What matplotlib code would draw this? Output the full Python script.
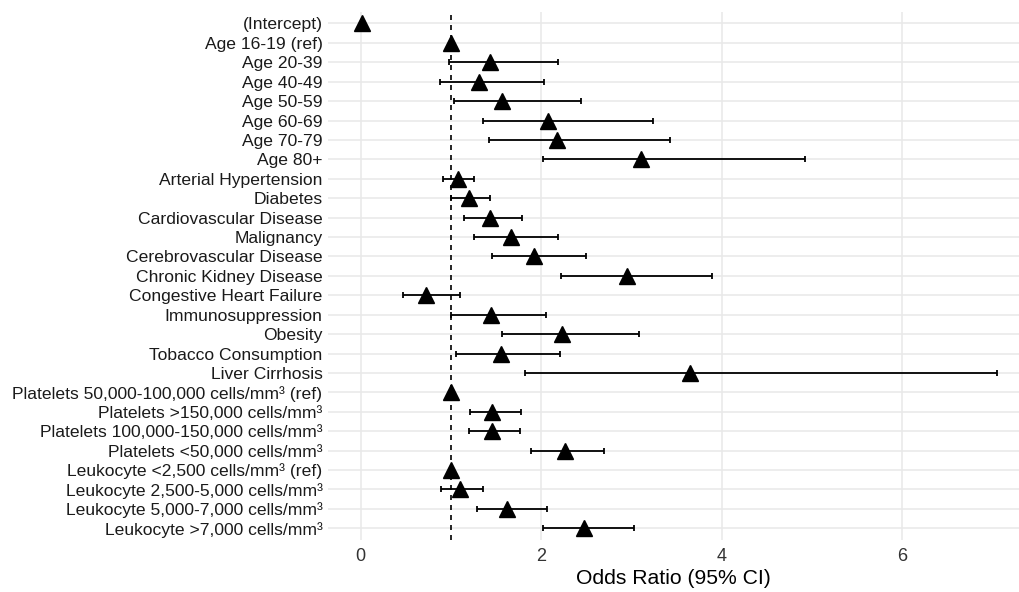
import numpy as np
import matplotlib.pyplot as plt

plt.rcParams['font.family'] = ['Liberation Sans', 'DejaVu Sans']

labels = ["(Intercept)", "Age 16-19 (ref)", "Age 20-39", "Age 40-49", "Age 50-59",
          "Age 60-69", "Age 70-79", "Age 80+", "Arterial Hypertension", "Diabetes",
          "Cardiovascular Disease", "Malignancy", "Cerebrovascular Disease",
          "Chronic Kidney Disease", "Congestive Heart Failure", "Immunosuppression",
          "Obesity", "Tobacco Consumption", "Liver Cirrhosis",
          "Platelets 50,000-100,000 cells/mm³ (ref)", "Platelets >150,000 cells/mm³",
          "Platelets 100,000-150,000 cells/mm³", "Platelets <50,000 cells/mm³",
          "Leukocyte <2,500 cells/mm³ (ref)", "Leukocyte 2,500-5,000 cells/mm³",
          "Leukocyte 5,000-7,000 cells/mm³", "Leukocyte >7,000 cells/mm³"]

odds = [0.02, 1.0, 1.43, 1.31, 1.56, 2.07, 2.17, 3.11, 1.08, 1.20,
        1.43, 1.66, 1.92, 2.95, 0.72, 1.44, 2.23, 1.55, 3.65,
        1.0, 1.46, 1.46, 2.26, 1.0, 1.10, 1.62, 2.47]
lower = [np.nan, np.nan, 0.98, 0.875, 1.03, 1.36, 1.42, 2.02, 0.91, 1.0,
         1.14, 1.26, 1.45, 2.22, 0.47, 1.0, 1.57, 1.06, 1.82,
         np.nan, 1.21, 1.20, 1.89, np.nan, 0.89, 1.29, 2.02]
upper = [np.nan, np.nan, 2.19, 2.03, 2.44, 3.24, 3.43, 4.92, 1.26, 1.43,
         1.79, 2.18, 2.49, 3.89, 1.10, 2.05, 3.08, 2.21, 7.05,
         np.nan, 1.78, 1.76, 2.69, np.nan, 1.35, 2.06, 3.03]

odds = np.array(odds)
lower = np.array(lower)
upper = np.array(upper)
y = np.arange(len(labels))[::-1]

fig = plt.figure(figsize=(10.19, 5.92), dpi=100)
ax = fig.add_axes([0.322, 0.088, 0.678, 0.892])

ok = ~np.isnan(lower)
ax.errorbar(odds[ok], y[ok], xerr=[odds[ok] - lower[ok], upper[ok] - odds[ok]],
            fmt='none', ecolor='black', elinewidth=1.3, capsize=2.5, capthick=1.3, zorder=3)
ax.plot(odds, y, '^', color='black', markersize=11.5, zorder=4)
ax.axvline(1, color='black', linestyle=(0, (3, 3)), linewidth=1.2, zorder=2)

ax.set_xlim(-0.36, 7.29)
ax.set_ylim(-0.6, len(labels) - 0.4)
ax.set_xticks([0, 2, 4, 6])
ax.set_yticks(y)
ax.set_yticklabels(labels)
ax.grid(True, color='#e8e8e8', linewidth=1.1)
ax.set_axisbelow(True)
for s in ax.spines.values():
    s.set_visible(False)
ax.tick_params(axis='both', length=0)
ax.tick_params(axis='y', labelsize=12.6, labelcolor='#1a1a1a', pad=4)
ax.tick_params(axis='x', labelsize=13, labelcolor='#333333', pad=6)
ax.set_xlabel("Odds Ratio (95% CI)", fontsize=15.2, color='black', labelpad=3)

fig.savefig("out.png", dpi=100)
